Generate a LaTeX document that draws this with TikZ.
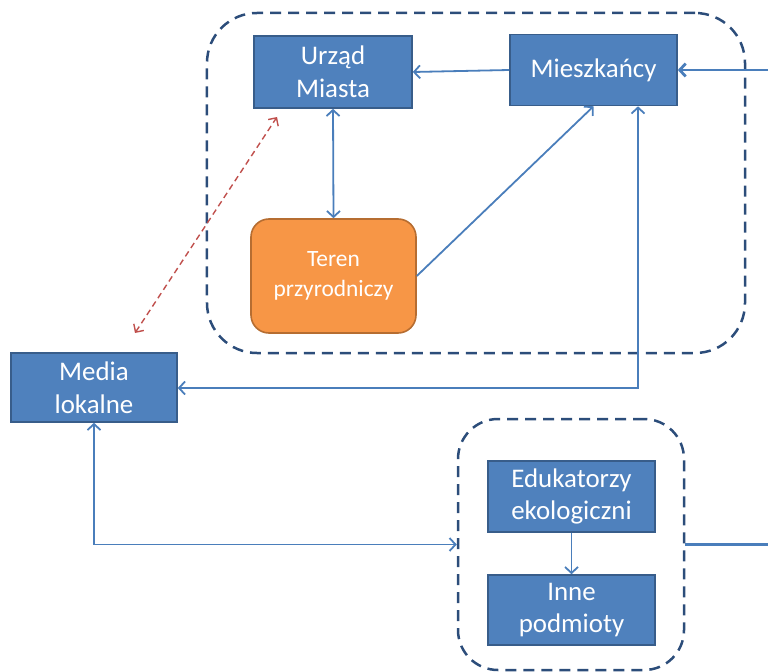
\documentclass[tikz,border=0pt]{standalone}
\usepackage{fontspec}
\setmainfont{Carlito}
\usetikzlibrary{arrows.meta, positioning}
\definecolor{boxblue}{HTML}{4F81BD}
\definecolor{boxedge}{HTML}{385D8A}
\definecolor{boxorange}{HTML}{F79646}
\definecolor{orangeedge}{HTML}{B66D31}
\definecolor{connblue}{HTML}{4A7EBB}
\definecolor{groupblue}{HTML}{2C4D7A}
\definecolor{linkred}{HTML}{C0504D}

\begin{document}
\begin{tikzpicture}[x=1bp, y=-1bp,
  actor/.style={draw=boxedge, line width=1.6bp, fill=boxblue, text=white, align=center,
              inner sep=0pt, font=\fontsize{27}{33}\selectfont},
  place/.style={actor, draw=orangeedge, fill=boxorange, rounded corners=18bp,
              font=\fontsize{23.5}{30}\selectfont},
  group/.style={draw=groupblue, line width=2.5bp, dash pattern=on 11bp off 7bp, inner sep=0pt},
  conn/.style={draw=connblue, line width=1.8bp, -{Straight Barb[length=6bp, width=13bp]}},
  both/.style={conn, {Straight Barb[length=6bp, width=13bp]}-{Straight Barb[length=6bp, width=13bp]}},
  link/.style={conn, line width=2.8bp},
  reddash/.style={draw=linkred, line width=1.4bp, dash pattern=on 6bp off 4bp,
              {Straight Barb[length=6bp, width=12bp]}-{Straight Barb[length=6bp, width=12bp]}},
]
\useasboundingbox (0,0) rectangle (768,672);

% Grupy
\node[group, rounded corners=50bp, minimum width=538bp, minimum height=340bp] (city) at (476,183) {};
\node[group, rounded corners=40bp, minimum width=226bp, minimum height=251bp] (others) at (571,544.5) {};

% Podmioty
\node[actor, minimum width=158bp, minimum height=72bp] (urzad) at (333,72) {Urząd\\Miasta};
\node[actor, minimum width=167bp, minimum height=71bp] (mieszk) at (593.5,70) {Mieszkańcy};
\node[place, minimum width=165bp, minimum height=114bp] (teren) at (333.5,276) {Teren\\przyrodniczy};
\node[actor, minimum width=166bp, minimum height=69bp] (media) at (94,387.5) {Media\\lokalne};
\node[actor, minimum width=167bp, minimum height=71bp] (eduk) at (571.5,496.5) {Edukatorzy\\ekologiczni};
\node[actor, minimum width=167bp, minimum height=70bp] (inne) at (571.5,610) {Inne\\podmioty};

% Punkty pomocnicze
\coordinate (bend) at (638,388);
\coordinate (redlow) at (135,333);
\coordinate (redhigh) at (277,117);
\coordinate (edgein) at (768,70);
\coordinate (edgeout) at (768,544.5);

% Strzałki
\draw[conn] (mieszk.west) -- (urzad.east);
\draw[both] (urzad.south) -- (teren.north);
\draw[conn] (teren.east) -- (mieszk.south);
\draw[both] (mieszk.south -| bend) -- (bend) -- (media.east |- bend);
\draw[both] (media.south) |- (others.west);
\draw[conn] (eduk.south) -- (inne.north);
\draw[reddash] (redlow) -- (redhigh);

\draw[link] (edgein) -- (mieszk.east);
\draw[link, -] (others.east) -- (edgeout);

\end{tikzpicture}
\end{document}
